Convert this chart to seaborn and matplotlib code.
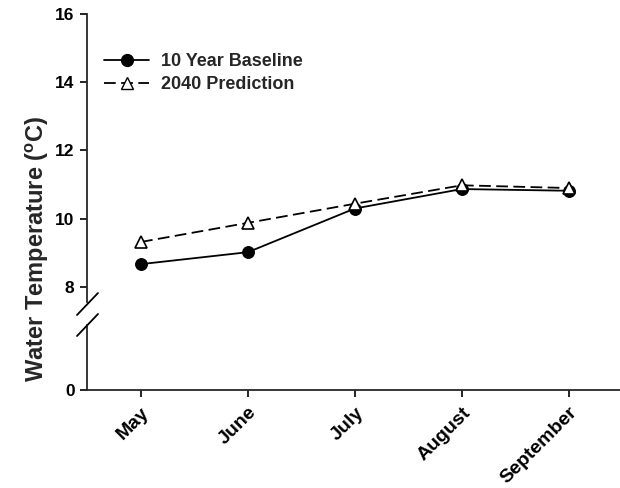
import matplotlib
matplotlib.use("Agg")
import matplotlib.pyplot as plt
import seaborn as sns
import pandas as pd

months = ["May", "June", "July", "August", "September"]
baseline = [8.67, 9.02, 10.30, 10.87, 10.82]
prediction = [9.32, 9.88, 10.44, 10.98, 10.90]
series_names = ["10 Year Baseline", "2040 Prediction"]
upper_ticks = [8, 10, 12, 14, 16]
lower_ticks = [0]

sns.set_style("ticks")
plt.rcParams['font.family'] = ['Liberation Sans', 'DejaVu Sans']
plt.rcParams['font.weight'] = 'bold'
plt.rcParams['mathtext.fontset'] = 'custom'
plt.rcParams['mathtext.rm'] = 'Liberation Sans:bold'
plt.rcParams['mathtext.bf'] = 'Liberation Sans:bold'

df = pd.DataFrame({
    "x": list(range(len(months))) * 2,
    "value": baseline + prediction,
    "series": [series_names[0]] * len(months) + [series_names[1]] * len(months),
})

fig = plt.figure(figsize=(6.2, 4.88), dpi=100)
ax = fig.add_axes([87/620, (488-302)/488, 1 - 87/620, (302-14)/488])
axb = fig.add_axes([87/620, (488-390)/488, 1 - 87/620, (390-325)/488])

sns.lineplot(data=df, x="x", y="value", hue="series", style="series",
             palette=["black", "black"], dashes=[(None, None), (6.5, 3)],
             markers=["o", "^"], markersize=8.5, linewidth=1.3, ax=ax,
             legend=False)
lines = ax.get_lines()
lines[0].set_markerfacecolor("black")
lines[0].set_markeredgecolor("black")
lines[1].set_markerfacecolor("white")
lines[1].set_markeredgecolor("black")
lines[1].set_markeredgewidth(1.2)
lines[1].set_zorder(3)

xlim = (-0.505, 4.48)
ax.set_xlim(*xlim)
axb.set_xlim(*xlim)
ax.set_ylim(7.56, 16)
axb.set_ylim(0, 1.9)

ax.set_yticks(upper_ticks)
ax.set_yticklabels([str(t) for t in upper_ticks])
axb.set_yticks(lower_ticks)
axb.set_yticklabels([str(t) for t in lower_ticks])

ax.set_xticks([])
axb.set_xticks(range(len(months)))
axb.set_xticklabels(months, rotation=45, ha="right", rotation_mode="anchor")

for a in (ax, axb):
    a.spines["top"].set_visible(False)
    a.spines["right"].set_visible(False)
    a.spines["left"].set_linewidth(1.3)
    a.spines["bottom"].set_linewidth(1.3)
    a.tick_params(axis="both", direction="out", length=5, width=1.2,
                  labelsize=12.5, pad=4, colors="black")
    a.set_xlabel("")
    a.set_ylabel("")
    a.patch.set_alpha(0)
axb.tick_params(axis="x", labelsize=14, pad=5)
ax.spines["bottom"].set_visible(False)
for lab in axb.get_xticklabels() + axb.get_yticklabels() + ax.get_yticklabels():
    lab.set_fontweight("bold")

fig.text(37/620, 1 - 249/488, r"Water Temperature ($^{\mathrm{o}}$C)",
         rotation=90, ha="center", va="center", fontsize=17, fontweight="bold")

# break marks
kw = dict(color="black", linewidth=1.3, clip_on=False)
x0, x1 = 77/620, 98/620
fig.add_artist(plt.Line2D([x0, x1], [1 - 315/488, 1 - 293/488], transform=fig.transFigure, **kw))
fig.add_artist(plt.Line2D([x0, x1], [1 - 336/488, 1 - 314/488], transform=fig.transFigure, **kw))

# legend
from matplotlib.lines import Line2D
handles = [Line2D([], [], color="black", linestyle="-", marker="o", markersize=8.5, linewidth=1.3,
                  markerfacecolor="black"),
           Line2D([], [], color="black", linestyle=(0, (6.5, 3)), marker="^", markersize=8.5,
                  linewidth=1.3, markerfacecolor="white", markeredgecolor="black")]
leg = ax.legend(handles, series_names, loc="upper left", bbox_to_anchor=(0.012, 0.902),
                frameon=False, fontsize=13, handlelength=2.5, handletextpad=0.65,
                labelspacing=0.35, borderaxespad=0.2)
for t in leg.get_texts():
    t.set_fontweight("bold")

fig.savefig("out.png", dpi=100)
